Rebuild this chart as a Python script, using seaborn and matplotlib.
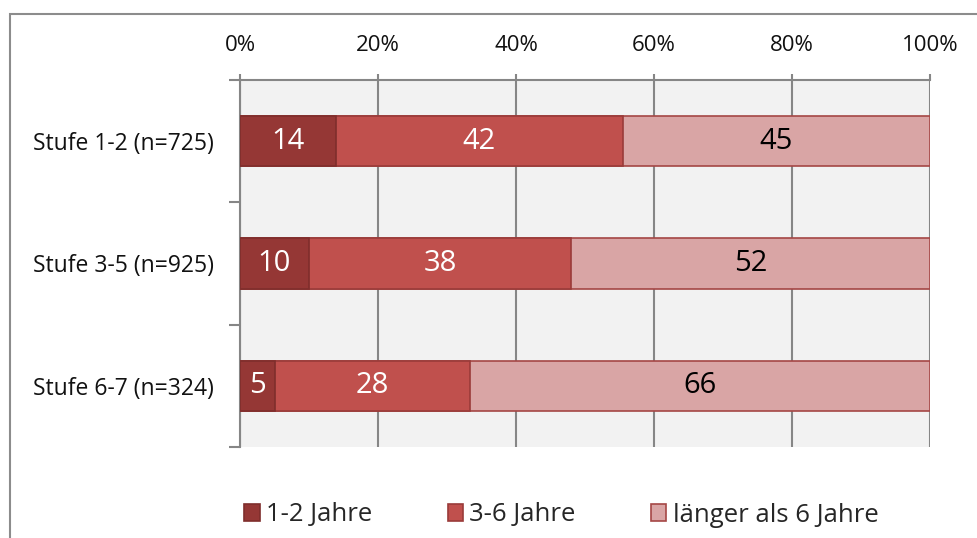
import matplotlib
matplotlib.use("Agg")
import matplotlib.pyplot as plt
import matplotlib.patches as mpatches
import seaborn as sns
import pandas as pd
import numpy as np

categories = ["Stufe 1-2 (n=725)", "Stufe 3-5 (n=925)", "Stufe 6-7 (n=324)"]
series_names = ["1-2 Jahre", "3-6 Jahre", "länger als 6 Jahre"]
v_12 = [14, 10, 5]
v_36 = [42, 38, 28]
v_6p = [45, 52, 66]
x_ticklabels = ["0%", "20%", "40%", "60%", "80%", "100%"]

colors = ["#953735", "#C0504D", "#D9A5A5"]
edges = ["#7F2E2C", "#9A3B39", "#A54745"]
text_colors = ["white", "white", "black"]

sns.set_theme(style="white")
plt.rcParams["font.family"] = ["Open Sans", "DejaVu Sans"]

vals = np.array([v_12, v_36, v_6p], dtype=float)
tot = vals.sum(axis=0)
pct = vals / tot * 100
cum = np.cumsum(pct, axis=0)

fig = plt.figure(figsize=(9.78, 5.38), dpi=100)
ax = fig.add_axes([240/978, 1-447/538, 690/978, 367/538])
ax.set_facecolor("#F2F2F2")

for i in range(2, -1, -1):
    df = pd.DataFrame({"cat": categories, "val": cum[i]})
    sns.barplot(data=df, x="val", y="cat", orient="h", color=colors[i],
                width=0.41, edgecolor=edges[i], linewidth=1.2, ax=ax,
                saturation=1, zorder=3)

for i in range(3):
    for j in range(3):
        start = cum[i][j] - pct[i][j]
        ax.text(start + pct[i][j] / 2, j, f"{int(vals[i][j])}", ha="center",
                va="center", color=text_colors[i], fontsize=21, zorder=5)

ax.set_xlim(0, 100)
ax.set_ylim(2.5, -0.5)
ax.set_xlabel("")
ax.set_ylabel("")
ax.set_xticks([0, 20, 40, 60, 80, 100])
ax.set_xticklabels(x_ticklabels, fontsize=16, color="#111111")
ax.xaxis.tick_top()
ax.tick_params(axis="x", which="major", direction="out", length=4, width=1.5,
               color="#868686", pad=13, top=True, bottom=False)
ax.set_yticks([0, 1, 2])
ax.set_yticklabels(categories, fontsize=16.5, color="#111111")
ax.set_yticks([-0.5, 0.5, 1.5, 2.5], minor=True)
ax.tick_params(axis="y", which="major", length=0, pad=19)
ax.tick_params(axis="y", which="minor", direction="out", length=8, width=1.5,
               color="#868686", left=True)
ax.grid(axis="x", color="#868686", linewidth=1.5, zorder=1)
ax.set_axisbelow(True)
for s in ["bottom", "right"]:
    ax.spines[s].set_visible(False)
for s in ["top", "left"]:
    ax.spines[s].set_visible(True)
    ax.spines[s].set_color("#868686")
    ax.spines[s].set_linewidth(1.5)

handles = [mpatches.Patch(facecolor=colors[i], edgecolor=edges[i], linewidth=1.2,
                          label=series_names[i]) for i in range(3)]
fig.legend(handles=handles, loc="center", bbox_to_anchor=(0.574, 1-515/538),
           ncol=3, frameon=False, fontsize=18.5, handlelength=0.6, handleheight=0.6,
           handletextpad=0.25, columnspacing=2.93)

border = mpatches.Rectangle((10/978, -0.1), 1.2, 1-14/538 + 0.1,
                            transform=fig.transFigure, fill=False,
                            edgecolor="#8C8C8C", linewidth=1.5, clip_on=False)
fig.patches.append(border)

fig.savefig("out.png", dpi=100)
